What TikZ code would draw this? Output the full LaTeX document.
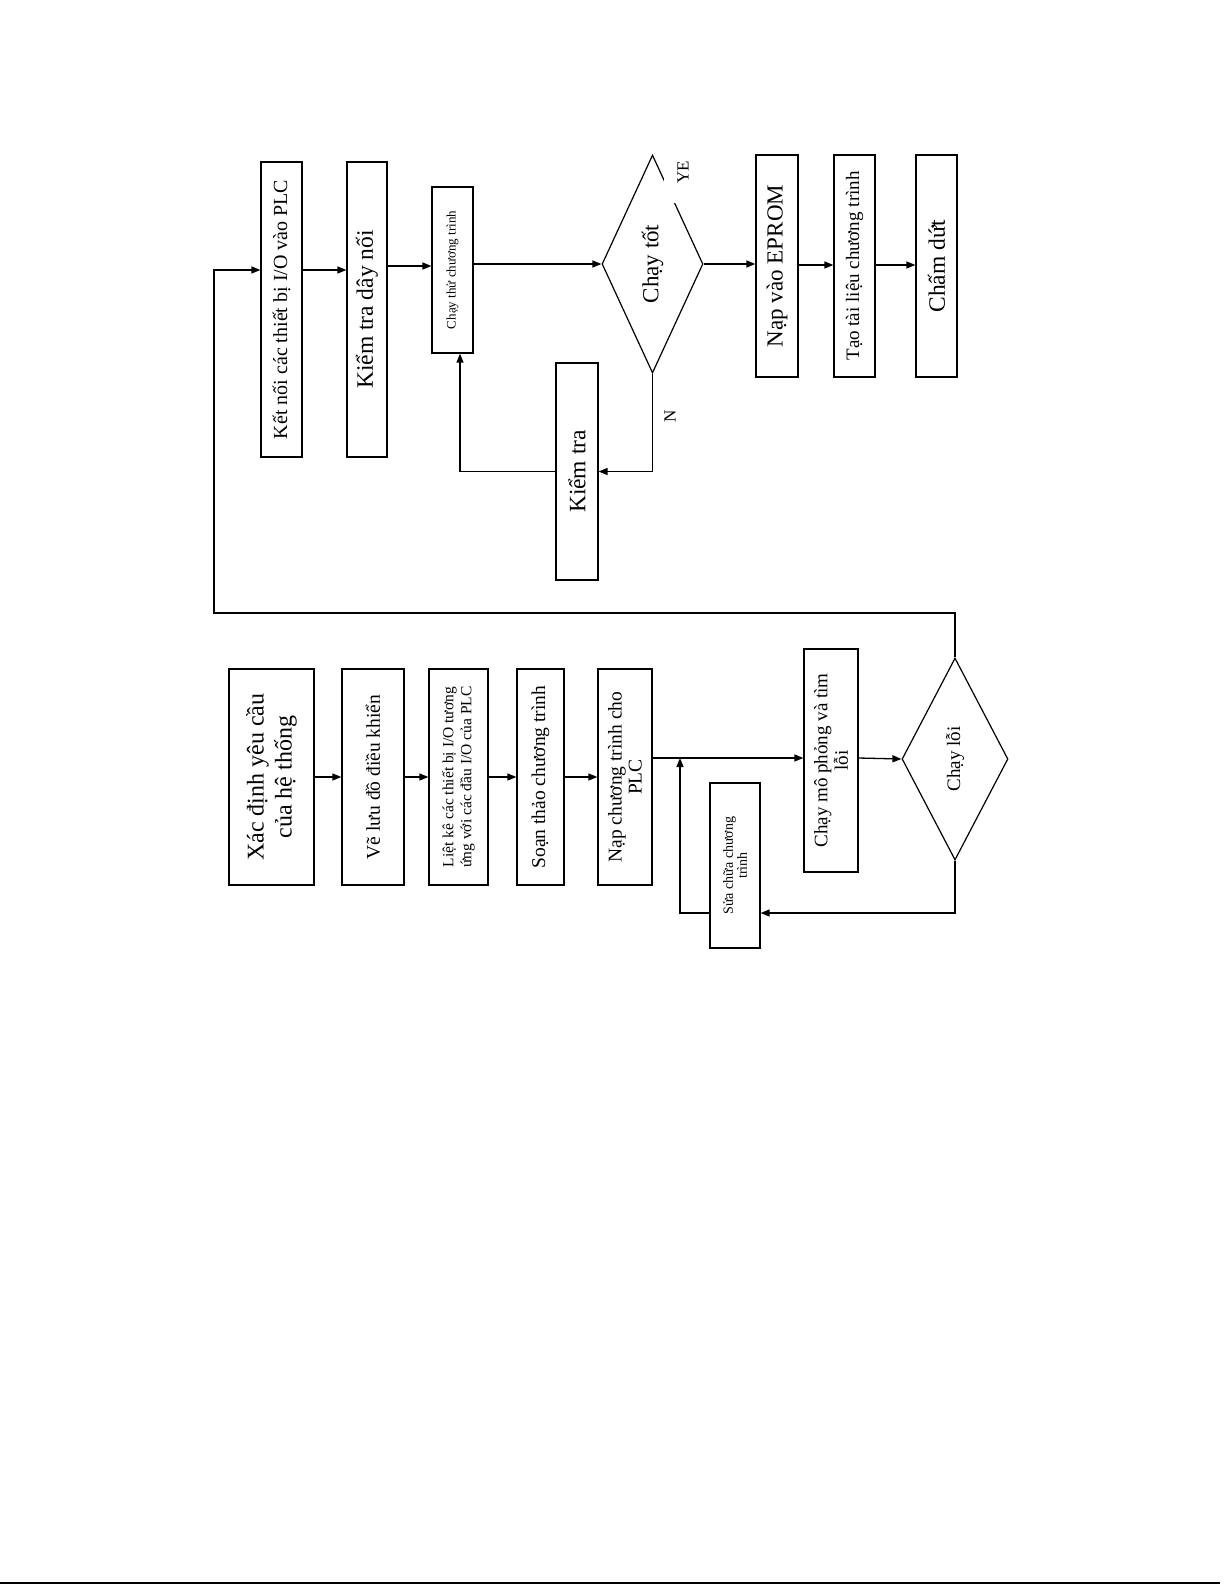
\documentclass[tikz,border=0pt]{standalone}
\usepackage{fontspec}
\setmainfont{Liberation Serif}
\usetikzlibrary{shapes.geometric,arrows.meta}
\newcommand{\sz}[2]{\fontsize{#1}{#2}\selectfont}

\begin{document}
\begin{tikzpicture}[x=1pt,y=-1pt,
		box/.style={draw, rotate=90, align=center, inner sep=1pt, line width=1.2pt},
		dec/.style={draw, diamond, rotate=90, aspect=2, inner sep=0pt, line width=1.2pt},
		arr/.style={-{Triangle[length=9pt,width=7pt]}, line width=1.3pt}]
			\useasboundingbox (0,0) rectangle (1225,1585);

			\node[box, minimum width=295, minimum height=41, font=\sz{20}{22}] (ketnoi) at (281.5,309.5) {Kết nối các thiết bị I/O vào PLC};
			\node[box, minimum width=295, minimum height=40, font=\sz{23.5}{25}] (kiemday) at (367,309.5) {Kiểm tra dây nối};
			\node[box, minimum width=166, minimum height=41, font=\sz{13}{14}] (chaythu) at (452.5,270) {Chạy thử chương trình};
			\node[dec, minimum width=218, minimum height=101, font=\sz{23}{25}] (chaytot) at (652.5,264) {Chạy tốt};
			\node[box, minimum width=222, minimum height=42, font=\sz{23}{25}] (eprom) at (777,266) {Nạp vào EPROM};
			\node[box, minimum width=222, minimum height=41, font=\sz{19}{21}] (tailieu) at (854.5,266) {Tạo tài liệu chương trình};
			\node[box, minimum width=222, minimum height=41, font=\sz{23.5}{25}] (chamdut) at (936.5,266) {Chấm dứt};
			\node[box, minimum width=217, minimum height=42, font=\sz{23.5}{25}] (kiemtra) at (577,471.5) {Kiểm tra};
			\node[rotate=90, fill=white, minimum width=62, minimum height=38, font=\sz{17}{17}] (yes) at (683,172) {YE};
			\node[rotate=90, font=\sz{17}{17}] (no) at (670,416) {N};

			\node[box, minimum width=216, minimum height=85, font=\sz{24}{28}] (xacdinh) at (271.5,777) {Xác định yêu cầu\\của hệ thống};
			\node[box, minimum width=216, minimum height=62, font=\sz{19.5}{21}] (veluu) at (373,777) {Vẽ lưu đồ điều khiển};
			\node[box, minimum width=216, minimum height=59, font=\sz{15.5}{18}] (lietke) at (458.5,777) {Liệt kê các thiết bị I/O tương\\ứng với các đầu I/O của PLC};
			\node[box, minimum width=216, minimum height=47, font=\sz{19.5}{21}] (soan) at (540.5,777) {Soạn thảo chương trình};
			\node[box, minimum width=216, minimum height=54, font=\sz{19.5}{20}] (napct) at (625,777) {Nạp chương trình cho\\PLC};
			\node[box, minimum width=223, minimum height=54, font=\sz{19}{20.5}] (mophong) at (831,760.5) {Chạy mô phỏng và tìm\\lỗi};
			\node[dec, minimum width=202, minimum height=106, font=\sz{19}{21}] (chayloi) at (955,759) {Chạy lỗi};
			\node[box, minimum width=165, minimum height=50, font=\sz{14}{14}] (suachua) at (735,865.5) {Sửa chữa chương\\trình};

			\coordinate (merge) at (680,758);
			\coordinate (loopdn) at (214,613);

			\draw[arr] (ketnoi.south |- 0,270) -- (kiemday.north |- 0,270);
			\draw[arr] (kiemday.south |- 0,266) -- (chaythu.north |- 0,266);
			\draw[arr] (chaythu.south |- 0,264) -- (chaytot.north);
			\draw[arr] (chaytot.south) -- (eprom.north |- chaytot.south);
			\draw[arr] (eprom.south |- 0,265) -- (tailieu.north |- 0,265);
			\draw[arr] (tailieu.south |- 0,265) -- (chamdut.north |- 0,265);
			\draw[arr] (chaytot.west) |- (kiemtra.south);
			\draw[arr] (kiemtra.north) -| (chaythu.west -| 460,0);

			\draw[arr] (xacdinh.south) -- (veluu.north);
			\draw[arr] (veluu.south) -- (lietke.north);
			\draw[arr] (lietke.south) -- (soan.north);
			\draw[arr] (soan.south) -- (napct.north);
			\draw[arr] (napct.south |- 0,758) -- (mophong.north |- 0,758);
			\draw[arr] (mophong.south |- 0,758) -- (chayloi.north);
			\draw[arr] (chayloi.west) |- (suachua.south |- 0,913);
			\draw[arr] (suachua.north |- 0,913) -| (merge);
			\draw[arr] (chayloi.east) |- (loopdn) |- (ketnoi.north |- 0,270);

			\draw[line width=1.5pt] (0,1583) -- (1220,1583);

		\end{tikzpicture}
\end{document}
